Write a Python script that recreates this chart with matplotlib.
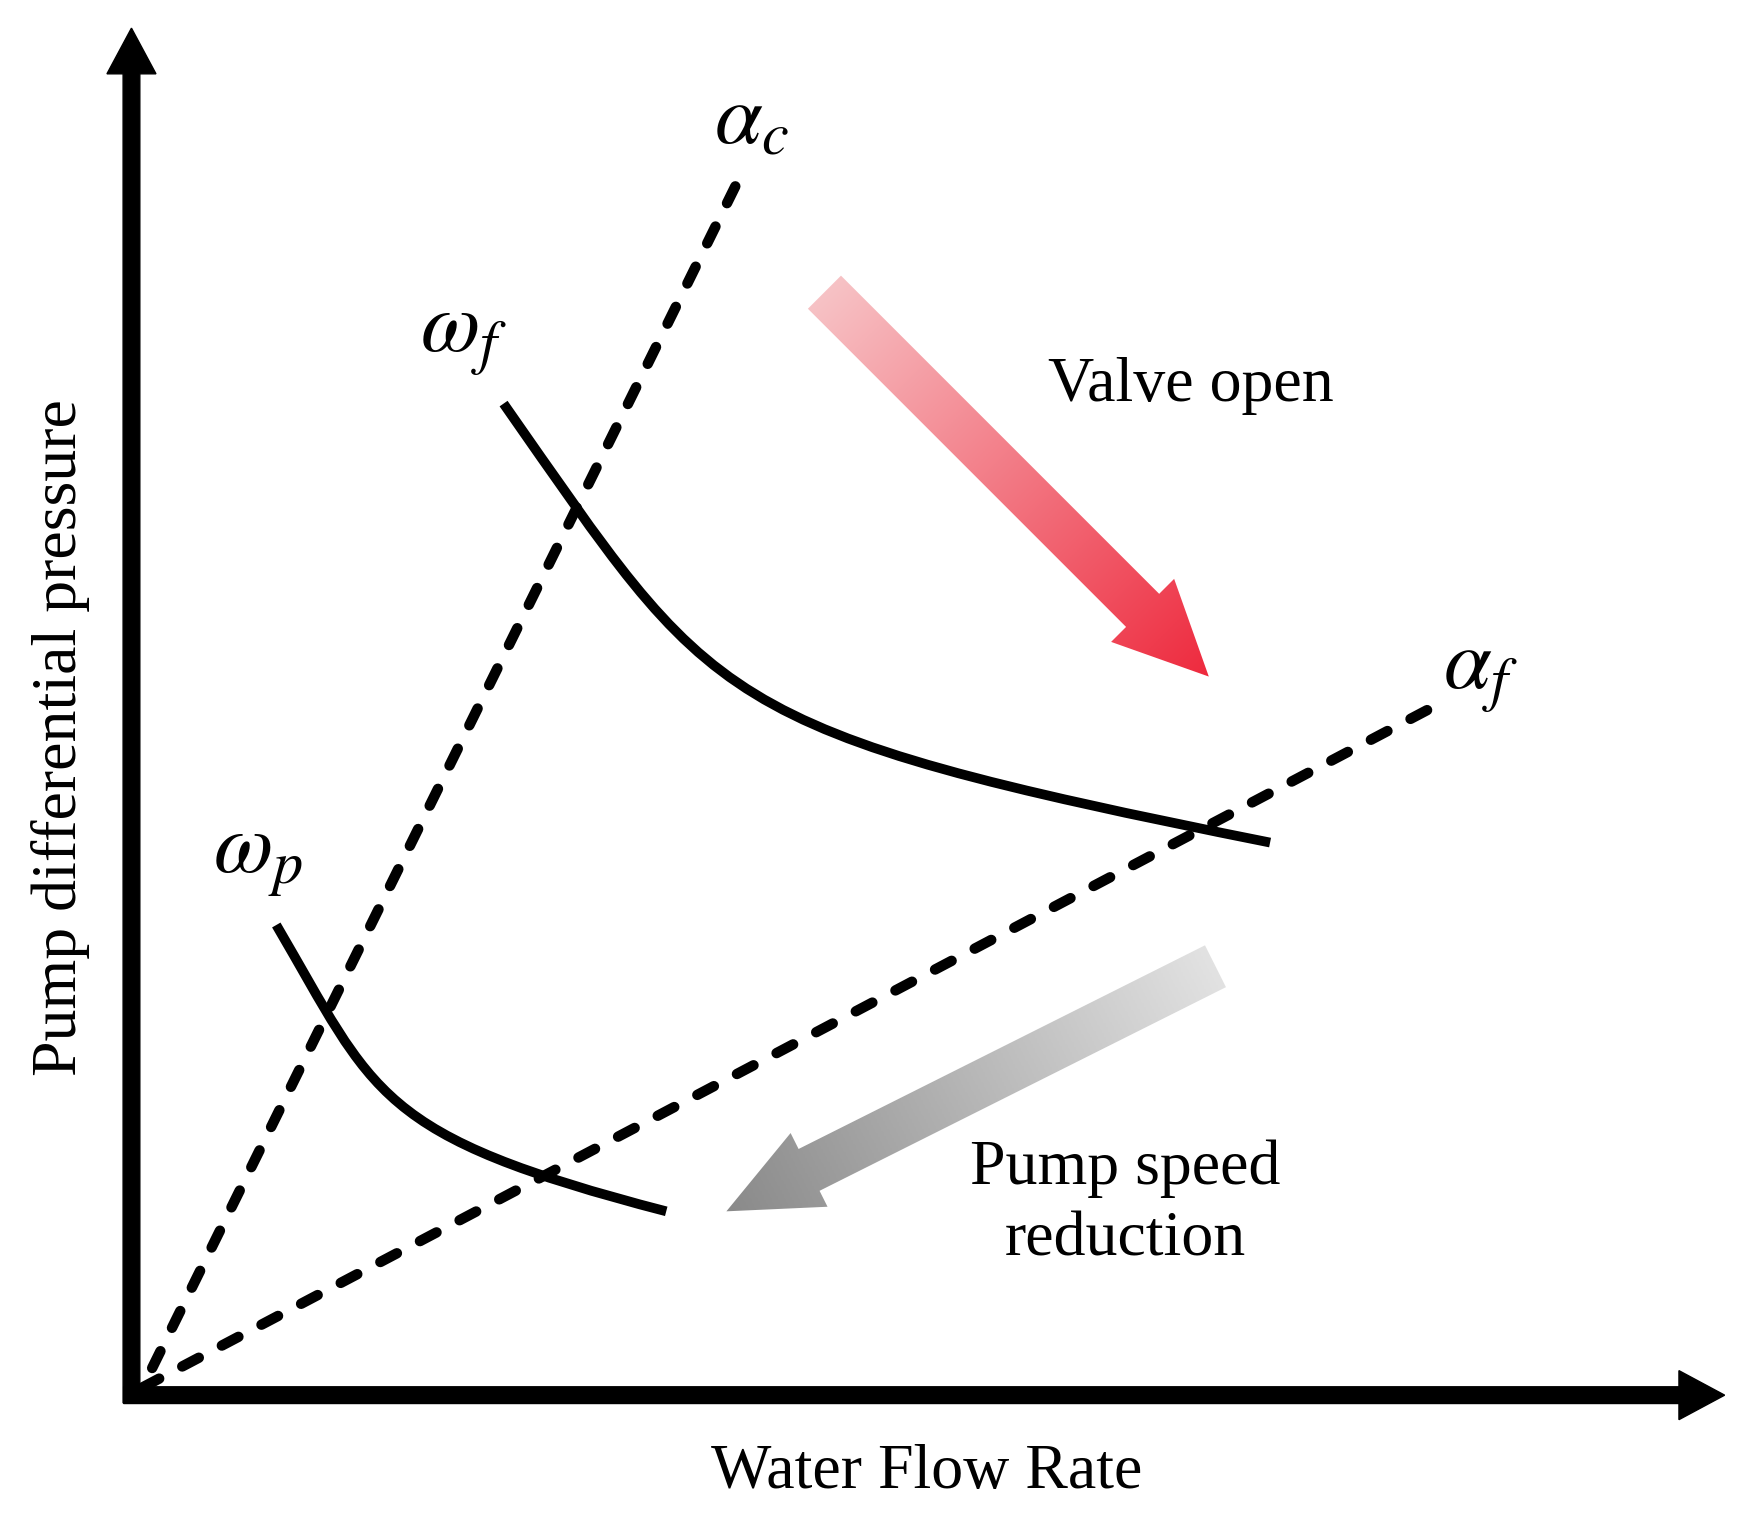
import numpy as np
import matplotlib
matplotlib.use("Agg")
import matplotlib.pyplot as plt
from matplotlib.patches import FancyArrow, PathPatch
from matplotlib.path import Path
from matplotlib.colors import LinearSegmentedColormap

plt.rcParams['font.family'] = ['Liberation Serif', 'DejaVu Serif']
plt.rcParams['mathtext.fontset'] = 'stix'

# schematic units: flow rate (x) and pressure (y), origin at the axis corner
alpha_c_x = [10, 542]
alpha_c_y = [7, 1085]
alpha_f_x = [10, 1167]
alpha_f_y = [7, 617]

# pump curves as cubic bezier control points
omega_f_x = [334, 524, 517, 1022]
omega_f_y = [890, 619, 597, 496]

omega_p_x = [130, 219, 218, 480]
omega_p_y = [422, 270, 233, 165]

# direction arrows: tail, tip
valve_arrow = [(622, 990), (967, 645)]
speed_arrow = [(973, 385), (534, 165)]


def bezier_curve(ax, xs, ys):
	verts = list(zip(xs, ys))
	codes = [Path.MOVETO, Path.CURVE4, Path.CURVE4, Path.CURVE4]
	patch = PathPatch(Path(verts, codes), facecolor='none', edgecolor='black',
		lw=7, capstyle='butt', zorder=4)
	ax.add_patch(patch)


def gradient_arrow(ax, tail, tip, c0, c1, width, head_width, head_length):
	x0, y0 = tail
	x1, y1 = tip
	arr = FancyArrow(x0, y0, x1 - x0, y1 - y0, width=width, head_width=head_width,
		head_length=head_length, length_includes_head=True,
		facecolor='none', edgecolor='none')
	ax.add_patch(arr)
	xs = np.linspace(min(x0, x1) - 60, max(x0, x1) + 60, 300)
	ys = np.linspace(min(y0, y1) - 60, max(y0, y1) + 60, 300)
	X, Y = np.meshgrid(xs, ys)
	L = np.hypot(x1 - x0, y1 - y0)
	t = ((X - x0) * (x1 - x0) + (Y - y0) * (y1 - y0)) / L**2
	t = np.clip(t, 0, 1)
	cmap = LinearSegmentedColormap.from_list('g', [c0, c1])
	im = ax.imshow(t, extent=(xs[0], xs[-1], ys[0], ys[-1]), origin='lower',
		cmap=cmap, vmin=0, vmax=1, interpolation='bilinear', zorder=1)
	im.set_clip_path(arr)


fig = plt.figure(figsize=(17.38, 15.18), dpi=100)
ax = fig.add_axes([0, 0, 1, 1])
ax.set_xlim(-118, 1442)
ax.set_ylim(-110, 1252)
ax.set_aspect('auto')
ax.axis('off')

# axes with arrow heads
ax.add_patch(FancyArrow(0, -7, 0, 1234, width=15, head_width=44, head_length=41,
	length_includes_head=True, color='black', zorder=5))
ax.add_patch(FancyArrow(-7, 0, 1437, 0, width=15, head_width=44, head_length=41,
	length_includes_head=True, color='black', zorder=5))

# alpha_c drawn from its top end so the dash pattern starts there
ax.plot(alpha_c_x[::-1], alpha_c_y[::-1], color='black', lw=7.5, dashes=(1.8, 2.5),
	dash_capstyle='round', zorder=3)
ax.plot(alpha_f_x, alpha_f_y, color='black', lw=7.5, dashes=(1.8, 2.5),
	dash_capstyle='round', zorder=3)

bezier_curve(ax, omega_f_x, omega_f_y)
bezier_curve(ax, omega_p_x, omega_p_y)

gradient_arrow(ax, valve_arrow[0], valve_arrow[1], '#f7c2c5', '#ee2a3e', 42, 80, 84)
gradient_arrow(ax, speed_arrow[0], speed_arrow[1], '#e2e2e2', '#8a8a8a', 42, 74, 83)

ax.text(951, 906, 'Valve open', fontsize=46, ha='center', va='center')
ax.text(892, 171, 'Pump speed\nreduction', fontsize=46, ha='center', va='center',
	linespacing=1.3)
ax.text(714, -70, 'Water Flow Rate', fontsize=46, ha='center', va='center')
ax.text(-64, 590, 'Pump differential pressure', fontsize=46, ha='center', va='center',
	rotation=90)

ax.text(557, 1142, r'$\alpha_c$', fontsize=62, ha='center', va='center')
ax.text(1211, 646, r'$\alpha_f$', fontsize=62, ha='center', va='center')
ax.text(298, 949, r'$\omega_f$', fontsize=62, ha='center', va='center')
ax.text(113, 481, r'$\omega_p$', fontsize=62, ha='center', va='center')

fig.savefig('out.png', dpi=100, facecolor='white')
